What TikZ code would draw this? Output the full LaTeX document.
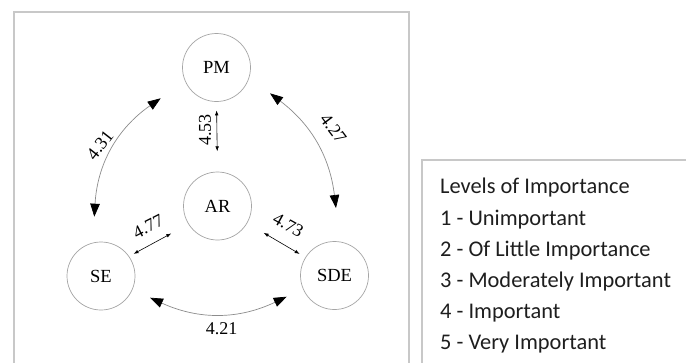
\documentclass[tikz,border=0pt]{standalone}
\usepackage{fontspec}
\setmainfont{Liberation Serif}
\newfontfamily\legendfont{Carlito}
\usetikzlibrary{arrows.meta}
\definecolor{framec}{RGB}{200,200,200}
\definecolor{circc}{RGB}{165,165,165}
\definecolor{curvec}{RGB}{140,140,140}
\definecolor{legtext}{RGB}{30,30,30}
\begin{document}
\begin{tikzpicture}[x=1pt,y=-1pt,
  actor/.style={circle, draw=circc, line width=0.7pt, minimum size=68pt, inner sep=0pt,
                font=\fontsize{18.5}{20}\selectfont},
  lbl/.style={inner sep=0pt, font=\fontsize{18}{20}\selectfont},
  bigarrow/.style={draw=curvec, line width=0.7pt,
                   {Triangle[length=13pt,width=9.5pt,black]}-{Triangle[length=13pt,width=9.5pt,black]}},
  smallarrow/.style={draw=black, line width=0.6pt,
                   {Latex[length=5pt,width=3.6pt]}-{Latex[length=5pt,width=3.6pt]}},
  legend/.style={inner sep=0pt, anchor=base west, text=legtext,
                 font=\legendfont\fontsize{22.4}{26}\selectfont},
  frameline/.style={draw=framec, line width=1.3pt}
]
\useasboundingbox (0,0) rectangle (686,362);
\fill[white] (0,0) rectangle (686,362);

% frames
\draw[frameline] (14,364) -- (14,12) -- (409,12) -- (409,364);
\draw[frameline] (422,364) -- (422,160) -- (688,160);

% actors
\node[actor] (PM)  at (216.5,67.5)  {PM};
\node[actor] (AR)  at (217.5,206)   {AR};
\node[actor] (SE)  at (101,276)     {SE};
\node[actor] (SDE) at (334.5,275.5) {SDE};

% connector end points
\coordinate (se-pm)  at (94.3,216.7);
\coordinate (pm-se)  at (160.7,98.3);
\coordinate (pm-sde) at (270,93.3);
\coordinate (sde-pm) at (336,208);
\coordinate (se-sde) at (150,297.7);
\coordinate (sde-se) at (286.7,296.7);

% curved arrows
\draw[bigarrow] (se-pm) to[bend left=26] (pm-se);
\draw[bigarrow] (pm-sde) to[bend left=23] (sde-pm);
\draw[bigarrow] (se-sde) to[bend right=25] (sde-se);

% straight arrows
\draw[smallarrow, shorten <=8.5pt, shorten >=20.3pt] (PM.south) -- (AR.north);
\draw[smallarrow, shorten <=5pt, shorten >=19.4pt] (SE.35) -- (AR.212);
\draw[smallarrow, shorten <=19pt, shorten >=6.6pt] (AR.330) -- (SDE.148);

% labels
\node[lbl, rotate=52]  (l431) at (100,145)     {4.31};
\node[lbl, rotate=-53] (l427) at (333.3,128.3) {4.27};
\node[lbl]             (l421) at (221.7,328.3) {4.21};
\node[lbl, rotate=90]  (l453) at (205,130)     {4.53};
\node[lbl, rotate=27]  (l477) at (148.3,226.7) {4.77};
\node[lbl, rotate=-29] (l473) at (288.3,225)   {4.73};

% legend
\node[legend] (lg0) at (440,193.3) {Levels of Importance};
\node[legend] (lg1) at (440,225)   {1 - Unimportant};
\node[legend] (lg2) at (440,256.5) {2 - Of Little Importance};
\node[legend] (lg3) at (440,287.5) {3 - Moderately Important};
\node[legend] (lg4) at (440,318.5) {4 - Important};
\node[legend] (lg5) at (440,349.5) {5 - Very Important};
\end{tikzpicture}
\end{document}
